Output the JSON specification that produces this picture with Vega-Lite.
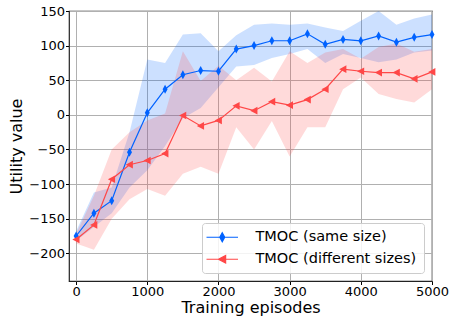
{
  "$schema": "https://vega.github.io/schema/vega-lite/v6.json",
  "width": 363,
  "height": 270,
  "autosize": {"type": "none"},
  "padding": {"left": 69, "top": 11, "right": 18, "bottom": 36},
  "config": {
    "font": "DejaVu Sans",
    "view": {"stroke": "#222", "strokeWidth": 1.2},
    "axis": {
      "labelFont": "DejaVu Sans", "labelFontSize": 13, "labelColor": "#000",
      "titleFont": "DejaVu Sans", "titleFontSize": 16, "titleFontWeight": "normal", "titleColor": "#000",
      "tickColor": "#000", "tickSize": 3.5, "domain": false,
      "gridColor": "#b0b0b0", "gridWidth": 1, "labelPadding": 1,
      "labelOverlap": false, "labelFlush": false
    },
    "legend": {
      "labelFont": "DejaVu Sans", "labelFontSize": 14.5, "labelColor": "#000", "labelLimit": 400,
      "fillColor": "rgba(255,255,255,0.85)", "strokeColor": "#cccccc", "cornerRadius": 3,
      "padding": 7, "rowPadding": 6, "symbolSize": 81, "symbolOffset": 6, "labelOffset": 26
    }
  },
  "data": {"values": [
    {"ep": 0, "s": "TMOC (same size)", "m": -175, "lo": -182, "hi": -168},
    {"ep": 250, "s": "TMOC (same size)", "m": -142, "lo": -162, "hi": -112},
    {"ep": 500, "s": "TMOC (same size)", "m": -124, "lo": -142, "hi": -105},
    {"ep": 750, "s": "TMOC (same size)", "m": -54, "lo": -105, "hi": -25},
    {"ep": 1000, "s": "TMOC (same size)", "m": 3, "lo": -80, "hi": 80},
    {"ep": 1250, "s": "TMOC (same size)", "m": 37, "lo": -45, "hi": 75},
    {"ep": 1500, "s": "TMOC (same size)", "m": 58, "lo": -5, "hi": 116},
    {"ep": 1750, "s": "TMOC (same size)", "m": 64, "lo": 10, "hi": 118},
    {"ep": 2000, "s": "TMOC (same size)", "m": 63, "lo": 40, "hi": 92},
    {"ep": 2250, "s": "TMOC (same size)", "m": 95, "lo": 70, "hi": 115},
    {"ep": 2500, "s": "TMOC (same size)", "m": 100, "lo": 72, "hi": 130},
    {"ep": 2750, "s": "TMOC (same size)", "m": 107, "lo": 82, "hi": 132},
    {"ep": 3000, "s": "TMOC (same size)", "m": 107, "lo": 88, "hi": 130},
    {"ep": 3250, "s": "TMOC (same size)", "m": 117, "lo": 95, "hi": 132},
    {"ep": 3500, "s": "TMOC (same size)", "m": 102, "lo": 75, "hi": 126},
    {"ep": 3750, "s": "TMOC (same size)", "m": 109, "lo": 88, "hi": 121},
    {"ep": 4000, "s": "TMOC (same size)", "m": 107, "lo": 82, "hi": 136},
    {"ep": 4250, "s": "TMOC (same size)", "m": 114, "lo": 76, "hi": 150},
    {"ep": 4500, "s": "TMOC (same size)", "m": 105, "lo": 80, "hi": 130},
    {"ep": 4750, "s": "TMOC (same size)", "m": 112, "lo": 90, "hi": 139},
    {"ep": 5000, "s": "TMOC (same size)", "m": 116, "lo": 93, "hi": 145},
    {"ep": 0, "s": "TMOC (different sizes)", "m": -180, "lo": -186, "hi": -172},
    {"ep": 250, "s": "TMOC (different sizes)", "m": -159, "lo": -195, "hi": -117},
    {"ep": 500, "s": "TMOC (different sizes)", "m": -93, "lo": -150, "hi": -50},
    {"ep": 750, "s": "TMOC (different sizes)", "m": -72, "lo": -122, "hi": -25},
    {"ep": 1000, "s": "TMOC (different sizes)", "m": -66, "lo": -107, "hi": -8},
    {"ep": 1250, "s": "TMOC (different sizes)", "m": -56, "lo": -117, "hi": 2},
    {"ep": 1500, "s": "TMOC (different sizes)", "m": -1, "lo": -85, "hi": 92},
    {"ep": 1750, "s": "TMOC (different sizes)", "m": -16, "lo": -75, "hi": 49},
    {"ep": 2000, "s": "TMOC (different sizes)", "m": -8, "lo": -85, "hi": 71},
    {"ep": 2250, "s": "TMOC (different sizes)", "m": 13, "lo": -18, "hi": 50},
    {"ep": 2500, "s": "TMOC (different sizes)", "m": 6, "lo": -50, "hi": 68},
    {"ep": 2750, "s": "TMOC (different sizes)", "m": 19, "lo": -9, "hi": 48},
    {"ep": 3000, "s": "TMOC (different sizes)", "m": 14, "lo": -60, "hi": 92},
    {"ep": 3250, "s": "TMOC (different sizes)", "m": 22, "lo": -18, "hi": 75},
    {"ep": 3500, "s": "TMOC (different sizes)", "m": 37, "lo": -18, "hi": 90},
    {"ep": 3750, "s": "TMOC (different sizes)", "m": 66, "lo": 37, "hi": 95},
    {"ep": 4000, "s": "TMOC (different sizes)", "m": 63, "lo": 54, "hi": 81},
    {"ep": 4250, "s": "TMOC (different sizes)", "m": 61, "lo": 30, "hi": 98},
    {"ep": 4500, "s": "TMOC (different sizes)", "m": 61, "lo": 23, "hi": 103},
    {"ep": 4750, "s": "TMOC (different sizes)", "m": 52, "lo": 18, "hi": 91},
    {"ep": 5000, "s": "TMOC (different sizes)", "m": 62, "lo": 37, "hi": 95}
  ]},
  "encoding": {
    "x": {"field": "ep", "type": "quantitative", "scale": {"domain": [-100, 5000], "nice": false, "zero": false},
          "axis": {"values": [0, 1000, 2000, 3000, 4000, 5000], "format": "d", "title": "Training episodes", "titlePadding": 1}},
    "color": {"field": "s", "type": "nominal",
      "scale": {"domain": ["TMOC (same size)", "TMOC (different sizes)"], "range": ["#0062ff", "#ff4747"]},
      "legend": {"title": null, "orient": "bottom-right", "offset": 8,
        "encode": {"symbols": {"update": {
          "shape": {"signal": "datum.value === 'TMOC (same size)' ? 'M-3.5,0L3.5,0L-3.5,0ZM0,-1L0.55,0L0,1L-0.55,0Z' : 'M-3.5,0L3.5,0L-3.5,0ZM-0.85,0L0.75,-0.85L0.75,0.85Z'"},
          "fill": {"scale": "color", "field": "value"},
          "stroke": {"scale": "color", "field": "value"},
          "strokeWidth": {"value": 1.2},
          "opacity": {"value": 1}
        }}}}}
  },
  "layer": [
    {
      "mark": {"type": "area", "opacity": 0.2},
      "encoding": {
        "y": {"field": "lo", "type": "quantitative", "scale": {"domain": [-240, 150], "nice": false, "zero": false},
              "axis": {"values": [-200, -150, -100, -50, 0, 50, 100, 150], "labelOverlap": false, "title": "Utility value", "titlePadding": 4}},
        "y2": {"field": "hi"}
      }
    },
    {
      "mark": {"type": "line", "strokeWidth": 1.2},
      "encoding": {
        "y": {"field": "m", "type": "quantitative", "scale": {"domain": [-240, 150], "nice": false, "zero": false},
              "axis": {"values": [-200, -150, -100, -50, 0, 50, 100, 150], "labelOverlap": false, "title": "Utility value", "titlePadding": 4}}
      }
    },
    {
      "transform": [{"filter": "datum.s === 'TMOC (same size)'"}],
      "mark": {"type": "point", "filled": true, "opacity": 1, "size": 81, "shape": "M0,-1L0.55,0L0,1L-0.55,0Z"},
      "encoding": {
        "y": {"field": "m", "type": "quantitative", "scale": {"domain": [-240, 150], "nice": false, "zero": false},
              "axis": {"values": [-200, -150, -100, -50, 0, 50, 100, 150], "labelOverlap": false, "title": "Utility value", "titlePadding": 4}}
      }
    },
    {
      "transform": [{"filter": "datum.s === 'TMOC (different sizes)'"}],
      "mark": {"type": "point", "filled": true, "opacity": 1, "size": 81, "shape": "M-0.85,0L0.75,-0.85L0.75,0.85Z"},
      "encoding": {
        "y": {"field": "m", "type": "quantitative", "scale": {"domain": [-240, 150], "nice": false, "zero": false},
              "axis": {"values": [-200, -150, -100, -50, 0, 50, 100, 150], "labelOverlap": false, "title": "Utility value", "titlePadding": 4}}
      }
    }
  ]
}
